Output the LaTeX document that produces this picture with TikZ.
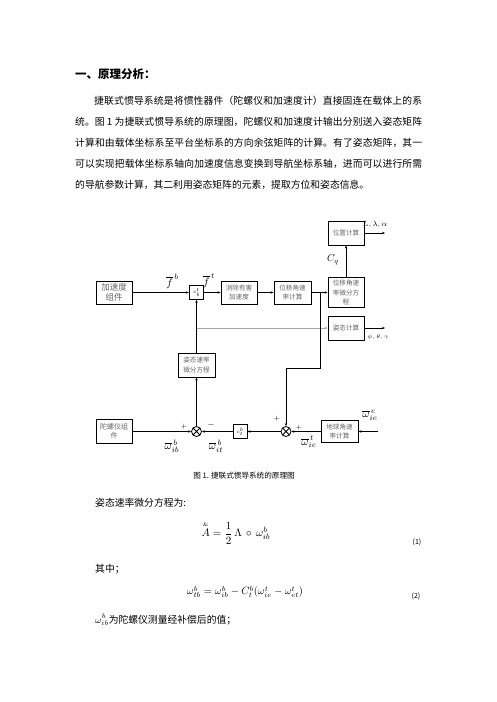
\RequirePackage{fix-cm}
\documentclass[tikz,border=0pt]{standalone}
\usepackage{amsmath}
\usepackage[no-math]{fontspec}
\setmainfont{Noto Sans CJK SC}
\usetikzlibrary{arrows.meta}
\begin{document}
\begin{tikzpicture}[x=1pt,y=-1pt,
  blk/.style={draw,line width=0.9pt,inner sep=0pt,align=center,text=black!60,font=\fontsize{6.6}{9.5}\selectfont},
  cbox/.style={draw,line width=0.9pt,inner sep=0pt,minimum width=14.5pt,minimum height=14pt,font=\fontsize{5}{6}\selectfont},
  mult/.style={draw,circle,line width=0.8pt,inner sep=0pt,minimum size=10pt,
    path picture={\draw[line width=0.8pt] (path picture bounding box.north west)--(path picture bounding box.south east)
      (path picture bounding box.north east)--(path picture bounding box.south west);}},
  conn/.style={line width=0.8pt,-{Stealth[length=3pt,width=2.4pt]}},
  lbl/.style={inner sep=0pt,font=\fontsize{9}{10}\selectfont},
  wlbl/.style={inner sep=0pt,font=\fontsize{11}{12}\selectfont},
  body/.style={inner sep=0pt,anchor=base west,font=\fontsize{9.8}{21}\selectfont},
]
\useasboundingbox[fill=white] (0,0) rectangle (496,702);

% heading and paragraph
\node[inner sep=0pt,anchor=base west,font=\fontsize{11.5}{14}\selectfont\bfseries] (head) at (75,78) {一、原理分析：};
\node[body,text width=347pt,align=justify] (para) at (75,104) {\XeTeXlinebreaklocale "zh"\XeTeXlinebreakskip=0pt plus 2pt\relax\hspace*{19pt}捷联式惯导系统是将惯性器件（陀螺仪和加速度计）直接固连在载体上的系\linebreak 统。图 1 为捷联式惯导系统的原理图，陀螺仪和加速度计输出分别送入姿态矩阵\linebreak 计算和由载体坐标系至平台坐标系的方向余弦矩阵的计算。有了姿态矩阵，其一\linebreak 可以实现把载体坐标系轴向加速度信息变换到导航坐标系轴，进而可以进行所需\linebreak 的导航参数计算，其二利用姿态矩阵的元素，提取方位和姿态信息。};

% blocks
\node[blk,minimum width=36pt,minimum height=23pt,font=\fontsize{8.5}{10}\selectfont] (acc) at (114,292.5) {加速度\\组件};
\node[cbox] (cbt) at (196.5,292.5) {$c_b^t$};
\node[blk,minimum width=36pt,minimum height=23pt] (xc) at (239,292.5) {消除有害\\加速度};
\node[blk,minimum width=37pt,minimum height=23pt] (wyjs) at (292.5,292.5) {位移角速\\率计算};
\node[blk,minimum width=36pt,minimum height=30pt] (wyfc) at (346,292.5) {位移角速\\率微分方\\程};
\node[blk,minimum width=36pt,minimum height=24pt] (wz) at (346,233) {位置计算};
\node[blk,minimum width=36pt,minimum height=24pt] (zt) at (346,328) {姿态计算};
\node[blk,minimum width=37pt,minimum height=24pt] (ztfc) at (196.5,365) {姿态速率\\微分方程};
\node[blk,minimum width=36pt,minimum height=24pt,font=\fontsize{7}{9.5}\selectfont] (tly) at (114,431.5) {陀螺仪组\\件};
\node[mult] (x1) at (196.5,431.5) {};
\node[cbox,minimum width=14pt] (ctb) at (240,431.5) {$c_t^b$};
\node[mult] (x2) at (286,431.5) {};
\node[blk,minimum width=37pt,minimum height=22pt] (dq) at (339.5,431.5) {地球角速\\率计算};

% free ends
\coordinate (o1) at (385,233);
\coordinate (o2) at (385,328);
\coordinate (g0) at (196.5,328);
\coordinate (br) at (320.5,292.5);
\coordinate (k1) at (320.5,368.5);
\coordinate (k2) at (286,368.5);
\coordinate (in) at (378,431.5);

% connectors
\draw[conn] (acc) -- (cbt);
\draw[conn] (cbt) -- (xc);
\draw[conn] (xc) -- (wyjs);
\draw[conn] (wyjs) -- (wyfc);
\draw[conn] (wyfc) -- (wz);
\draw[conn] (wz.east) -- (o1);
\draw[conn] (zt.east) -- (o2);
\draw[conn,black!35] (g0) -- (zt.west);
\draw[conn] (ztfc) -- (cbt);
\draw[conn] (x1) -- (ztfc);
\draw[conn] (tly) -- (x1);
\draw[conn] (ctb) -- (x1);
\draw[conn] (x2) -- (ctb);
\draw[conn] (br) -- (k1) -- (k2) -- (x2);
\draw[conn] (dq) -- (x2);
\draw[conn] (in) -- (dq);

% labels
\node[wlbl] (lfb) at (172.5,281) {$\overline{f}^{\,b}$};
\node[wlbl] (lft) at (209,281) {$\overline{f}^{\,t}$};
\node[lbl,font=\fontsize{7.5}{8}\selectfont] (llam) at (375,225) {$L,\lambda,\alpha$};
\node[lbl,font=\fontsize{10}{11}\selectfont] (lcq) at (333,260) {$C_q$};
\node[lbl,font=\fontsize{5.5}{6}\selectfont] (lpsi) at (378,337) {$\psi,\theta,\gamma$};
\node[lbl,font=\fontsize{7}{8}\selectfont] (p1) at (184,427) {$+$};
\node[lbl] (m1) at (211,425) {$-$};
\node[wlbl] (w1) at (172,446) {$\overline{\omega}_{ib}^{\,b}$};
\node[wlbl] (w2) at (216,446) {$\overline{\omega}_{it}^{\,b}$};
\node[lbl,font=\fontsize{7}{8}\selectfont] (p2) at (277,419) {$+$};
\node[lbl,font=\fontsize{7}{8}\selectfont] (p3) at (299,428) {$+$};
\node[wlbl] (w3) at (309,442) {$\overline{\omega}_{ie}^{\,t}$};
\node[wlbl] (w4) at (370,415) {$\overline{\omega}_{ie}^{\,e}$};

% caption
\node[inner sep=0pt,font=\fontsize{7.6}{9}\selectfont] (cap) at (244,476) {图 1. 捷联式惯导系统的原理图};

% text below
\node[body] (t1) at (95,506) {姿态速率微分方程为:};
\node[inner sep=0pt,font=\fontsize{11}{13}\selectfont] (eq1) at (236,533) {$\overset{\scriptscriptstyle\&}{A}=\dfrac{1}{2}\,\Lambda\,\circ\,\omega_{ib}^{b}$};
\node[inner sep=0pt,font=\fontsize{7}{8}\selectfont] (n1) at (417,542) {(1)};
\node[body] (t2) at (95,572) {其中；};
\node[inner sep=0pt,font=\fontsize{10.5}{12}\selectfont] (eq2) at (245,592) {$\omega_{tb}^{b}=\omega_{ib}^{b}-C_t^b(\omega_{ie}^{t}-\omega_{et}^{t})$};
\node[inner sep=0pt,font=\fontsize{7}{8}\selectfont] (n2) at (416,596) {(2)};
\node[body] (t3) at (95,623) {$\omega_{ib}^{b}$为陀螺仪测量经补偿后的值；};
\end{tikzpicture}
\end{document}
